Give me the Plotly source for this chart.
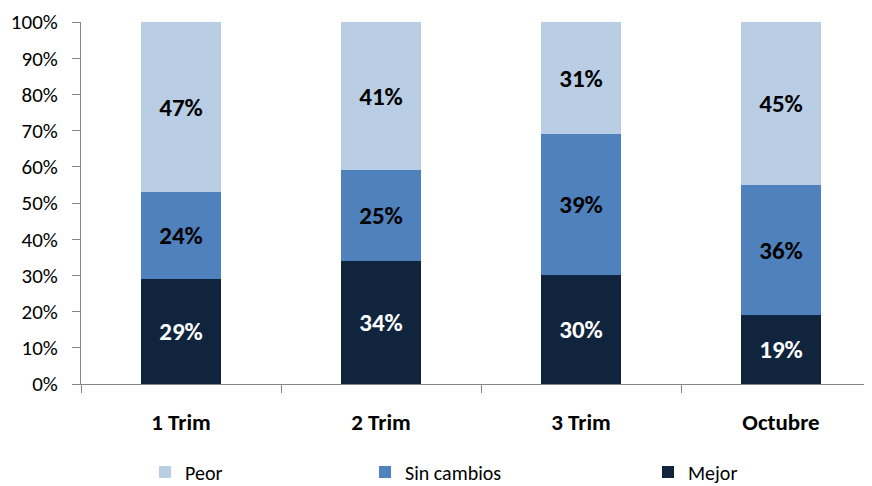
import plotly.graph_objects as go

categories = ["1 Trim", "2 Trim", "3 Trim", "Octubre"]
mejor = [29, 34, 30, 19]
sin_cambios = [24, 25, 39, 36]
peor = [47, 41, 31, 45]

FONT = "Carlito, Calibri, Lato, sans-serif"
colors = {"Mejor": "#10243E", "Sin cambios": "#4F81BD", "Peor": "#B9CDE5"}
textcol = {"Mejor": "white", "Sin cambios": "black", "Peor": "black"}

fig = go.Figure()
series = [("Mejor", mejor, "legend3"), ("Sin cambios", sin_cambios, "legend2"), ("Peor", peor, "legend")]
for name, vals, lg in series:
    fig.add_trace(go.Bar(
        x=categories, y=vals, name=name, legend=lg,
        marker=dict(color=colors[name], line=dict(width=0)),
        text=[f"{v}%" for v in vals], textposition="inside", insidetextanchor="middle",
        textfont=dict(family=FONT, size=25, color=textcol[name]),
        texttemplate="<b>%{text}</b>", width=0.4,
    ))

# page has an 8px body margin, so the figure is drawn from (8, 8)
OFF = 8
W, H = 872 - OFF, 486 - OFF
L, T = 81 - OFF, 22 - OFF
AX_Y = 384 - OFF
B = H - AX_Y
pw = W - L
ph = AX_Y - T
def lx(px):
    return (px - OFF - L) / pw

leg_common = dict(orientation="h", yanchor="middle", y=(AX_Y - (472 - OFF)) / ph, xanchor="left",
                  font=dict(family=FONT, size=20, color="#000000"), bgcolor="rgba(0,0,0,0)",
                  itemwidth=30, tracegroupgap=0)
fig.update_layout(
    width=W, height=H, barmode="stack",
    margin=dict(l=L, r=0, t=T, b=B, autoexpand=False),
    plot_bgcolor="white", paper_bgcolor="white",
    showlegend=True,
    legend=dict(x=lx(145), **leg_common),
    legend2=dict(x=lx(365), **leg_common),
    legend3=dict(x=lx(648), **leg_common),
    xaxis=dict(type="category", range=[-0.5, -0.5 + pw / 200], tickson="boundaries",
               ticks="outside", ticklen=8, tickcolor="#868686", showline=True,
               linecolor="#868686", linewidth=1, showgrid=False, automargin=False,
               tickfont=dict(family=FONT, size=23, color="#000000"),
               ticklabelstandoff=17, tickprefix="<b>", ticksuffix="</b>"),
    yaxis=dict(range=[0, 100], dtick=10, ticksuffix="%", ticks="outside", ticklen=8,
               tickcolor="#868686", showline=True, linecolor="#868686", linewidth=1,
               showgrid=False, zeroline=False, automargin=False,
               tickfont=dict(family=FONT, size=21, color="#000000"), ticklabelstandoff=10),
)
fig.write_html("out.html")
